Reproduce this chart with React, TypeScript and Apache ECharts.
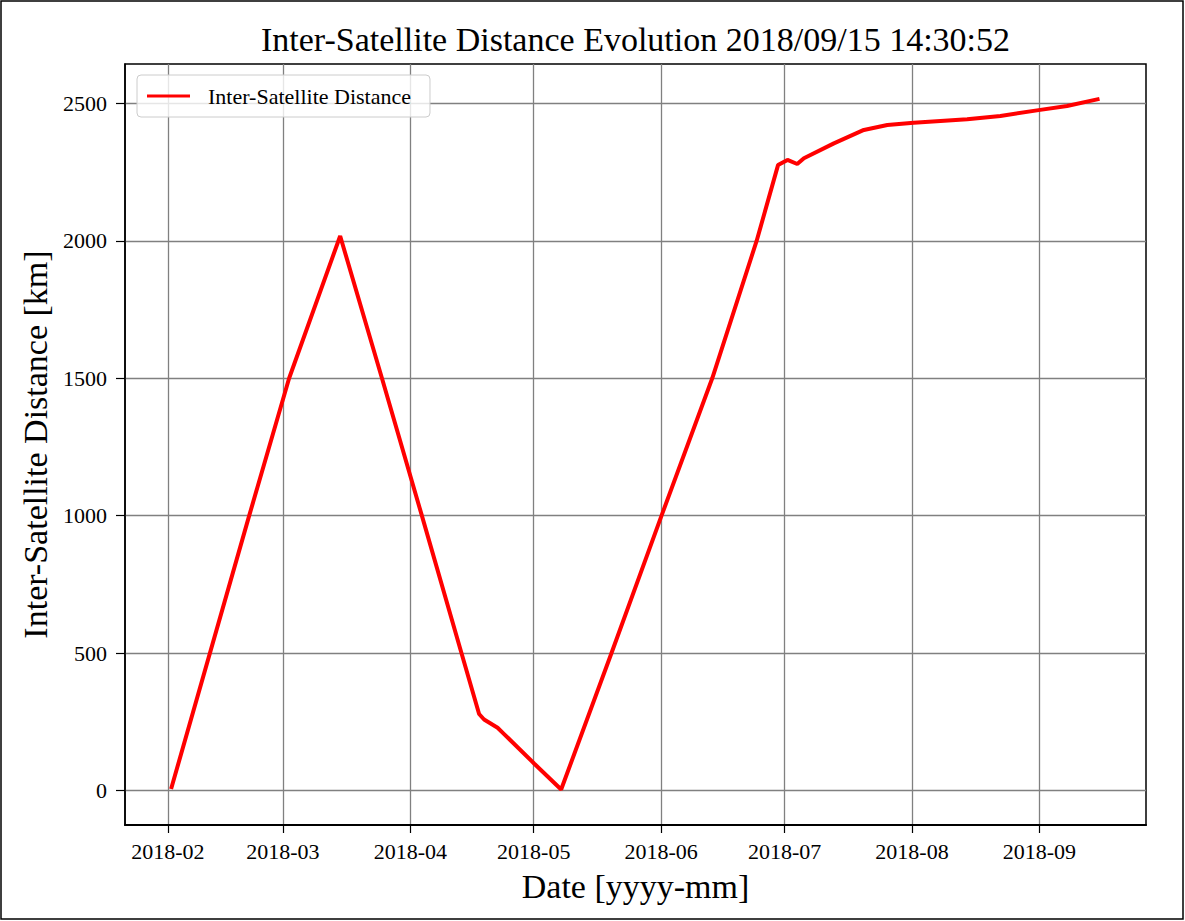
import { useEffect, useRef } from "react";
import * as echarts from "echarts";

const TITLE = "Inter-Satellite Distance Evolution 2018/09/15 14:30:52";
const SERIES_NAME = "Inter-Satellite Distance";
const X_NAME = "Date [yyyy-mm]";
const Y_NAME = "Inter-Satellite Distance [km]";

const DATES = [
  "2018-02-01 19:00",
  "2018-02-20 19:00",
  "2018-03-02 12:00",
  "2018-03-14 22:00",
  "2018-03-25 02:00",
  "2018-04-03 19:00",
  "2018-04-13 10:00",
  "2018-04-17 17:00",
  "2018-04-18 22:00",
  "2018-04-22 05:00",
  "2018-04-23 19:00",
  "2018-05-01 02:00",
  "2018-05-07 16:00",
  "2018-05-19 22:00",
  "2018-06-01 02:00",
  "2018-06-13 10:00",
  "2018-06-24 05:00",
  "2018-06-29 10:00",
  "2018-07-01 17:00",
  "2018-07-04 02:00",
  "2018-07-05 17:00",
  "2018-07-13 00:00",
  "2018-07-20 07:00",
  "2018-07-26 00:00",
  "2018-08-01 10:00",
  "2018-08-14 10:00",
  "2018-08-22 12:00",
  "2018-09-01 05:00",
  "2018-09-07 17:00",
  "2018-09-15 14:30",
];

const DISTANCE_KM = [
  5, 1000, 1500, 2018, 1500, 1000, 500, 278, 258, 228, 205, 98, 3, 500, 1000,
  1500, 2000, 2276, 2295, 2280, 2301, 2355, 2404, 2422, 2430, 2443, 2455, 2477,
  2491, 2517,
];

const X_TICKS = [
  "2018-02-01",
  "2018-03-01",
  "2018-04-01",
  "2018-05-01",
  "2018-06-01",
  "2018-07-01",
  "2018-08-01",
  "2018-09-01",
];
const Y_TICKS = [0, 500, 1000, 1500, 2000, 2500];
const X_RANGE = ["2018-01-21 14:00", "2018-09-26 22:00"];
const Y_RANGE = [-126, 2644];

const FONT = "'Liberation Serif', 'Times New Roman', serif";

function toTime(s: string): number {
  const [d, t = "00:00"] = s.split(" ");
  const [y, m, day] = d.split("-").map(Number);
  const [hh, mm] = t.split(":").map(Number);
  return new Date(y, m - 1, day, hh, mm).getTime();
}

function fmtMonth(v: number): string {
  const d = new Date(v);
  return `${d.getFullYear()}-${String(d.getMonth() + 1).padStart(2, "0")}`;
}

export default function App() {
  const ref = useRef<HTMLDivElement>(null);

  useEffect(() => {
    document.body.style.margin = "0";
    if (!ref.current) return;
    const chart = echarts.init(ref.current, null, { renderer: "svg" });
    const xTicks = X_TICKS.map(toTime);
    const data = DATES.map((d, i) => [toTime(d), DISTANCE_KM[i]]);

    chart.setOption({
      animation: false,
      backgroundColor: "#ffffff",
      textStyle: { fontFamily: FONT, color: "#000" },
      title: {
        text: TITLE,
        left: 635.5,
        top: 22,
        padding: 0,
        textAlign: "center",
        textStyle: {
          fontFamily: FONT,
          fontSize: 34,
          fontWeight: "normal",
          color: "#000",
        },
      },
      legend: {
        show: true,
        left: 137,
        top: 75,
        padding: [10, 19, 10, 10],
        itemWidth: 43,
        itemHeight: 3,
        backgroundColor: "rgba(255,255,255,0.8)",
        borderColor: "#cccccc",
        borderWidth: 1,
        borderRadius: 4,
        textStyle: {
          fontFamily: FONT,
          fontSize: 22,
          color: "#000",
          padding: [0, 0, 0, 13],
        },
        data: [{ name: SERIES_NAME, icon: "rect" }],
      },
      grid: {
        left: 125,
        right: 39,
        top: 64,
        bottom: 96,
        show: true,
        borderColor: "#000",
        borderWidth: 1.5,
        backgroundColor: "transparent",
      },
      xAxis: {
        type: "value",
        min: toTime(X_RANGE[0]),
        max: toTime(X_RANGE[1]),
        name: X_NAME,
        nameLocation: "middle",
        nameGap: 44,
        nameTextStyle: { fontFamily: FONT, fontSize: 34, color: "#000" },
        axisLine: {
          show: true,
          onZero: false,
          lineStyle: { color: "#000", width: 2 },
        },
        axisTick: {
          show: true,
          customValues: xTicks,
          length: 8,
          lineStyle: { color: "#000", width: 1.2 },
        },
        axisLabel: {
          customValues: xTicks,
          formatter: (v: number) => fmtMonth(v),
          margin: 15,
          fontFamily: FONT,
          fontSize: 22,
          color: "#000",
        },
        splitLine: { show: true, lineStyle: { color: "#808080", width: 1.3 } },
      },
      yAxis: {
        type: "value",
        min: Y_RANGE[0],
        max: Y_RANGE[1],
        name: Y_NAME,
        nameLocation: "middle",
        nameGap: 65,
        nameRotate: 90,
        nameTextStyle: { fontFamily: FONT, fontSize: 34, color: "#000" },
        axisLine: {
          show: true,
          onZero: false,
          lineStyle: { color: "#000", width: 1.5 },
        },
        axisTick: {
          show: true,
          customValues: Y_TICKS,
          length: 9,
          lineStyle: { color: "#000", width: 1.2 },
        },
        axisLabel: {
          customValues: Y_TICKS,
          formatter: (v: number) => String(v),
          margin: 18,
          fontFamily: FONT,
          fontSize: 22,
          color: "#000",
        },
        splitLine: { show: true, lineStyle: { color: "#808080", width: 1.3 } },
      },
      graphic: [
        {
          type: "rect",
          silent: true,
          shape: { x: 1, y: 1, width: 1182, height: 918 },
          style: { fill: "none", stroke: "#000", lineWidth: 1.5 },
        },
      ],
      series: [
        {
          type: "line",
          name: SERIES_NAME,
          data,
          symbol: "none",
          lineStyle: { color: "#ff0000", width: 4 },
          itemStyle: { color: "#ff0000" },
        },
      ],
    });

    return () => chart.dispose();
  }, []);

  return <div ref={ref} style={{ width: 1185, height: 921 }} />;
}
